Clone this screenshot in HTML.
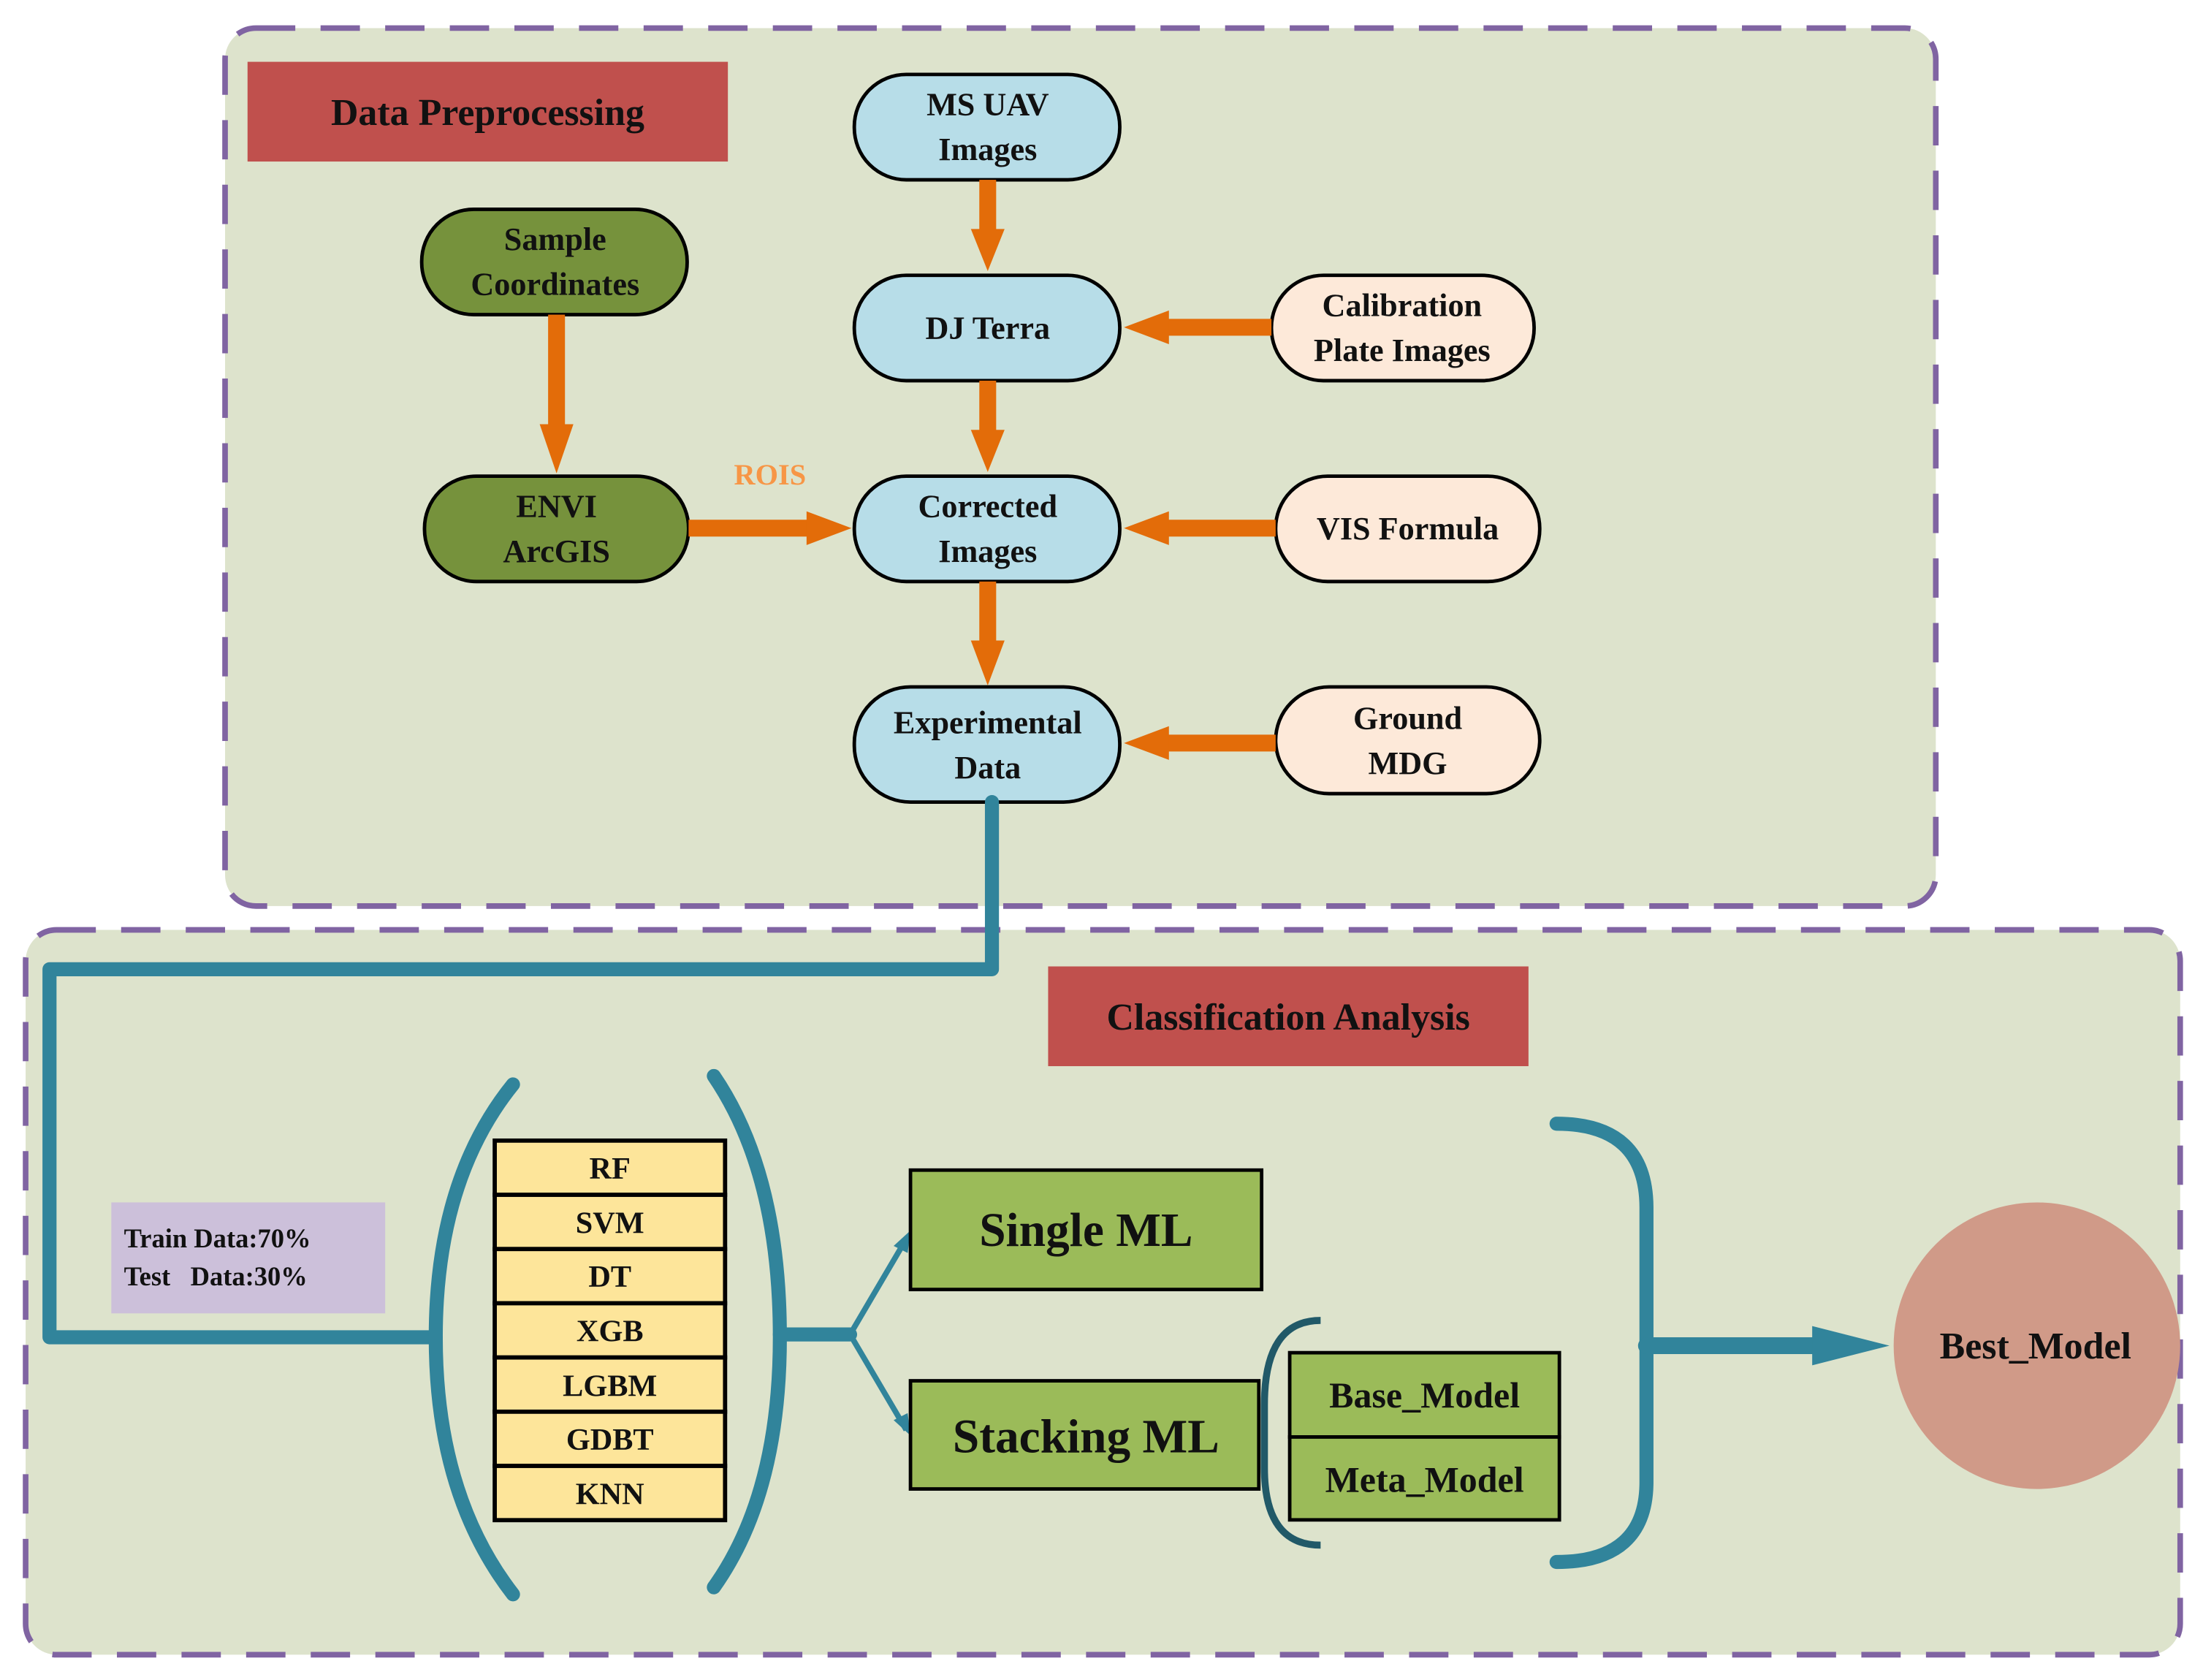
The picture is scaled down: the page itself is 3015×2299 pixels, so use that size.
<!DOCTYPE html>
<html><head><meta charset="utf-8"><style>html,body{margin:0;padding:0;background:#fff}svg{display:block}text{font-family:"Liberation Serif",serif;font-weight:bold;fill:#111}</style></head>
<body>
<svg width="3015" height="2299" viewBox="0 0 1568 1196" xmlns="http://www.w3.org/2000/svg">
<defs>
<marker id="oa" markerWidth="6" markerHeight="6" refX="5" refY="3" orient="auto" markerUnits="userSpaceOnUse" viewBox="0 0 6 6"></marker>
</defs>
<rect width="1568" height="1196" fill="#fff"/>
<rect x="160" y="20" width="1218" height="625" rx="22" fill="#dde3cc" stroke="#8064a2" stroke-width="4" stroke-dasharray="28,18"/>
<rect x="18" y="662" width="1534" height="516" rx="22" fill="#dde3cc" stroke="#8064a2" stroke-width="4" stroke-dasharray="28,18"/>

<rect x="176" y="44" width="342" height="71" fill="#c0504d"/>
<text x="347" y="89" font-size="27" text-anchor="middle">Data Preprocessing</text>
<rect x="746" y="688" width="342" height="71" fill="#c0504d"/>
<text x="917" y="733" font-size="27" text-anchor="middle">Classification Analysis</text>

<g stroke="#000" stroke-width="2.5">
<rect x="608" y="53" width="189" height="75" rx="37" fill="#b7dde8"/>
<rect x="300" y="149" width="189" height="75" rx="37" fill="#76923c"/>
<rect x="608" y="196" width="189" height="75" rx="37" fill="#b7dde8"/>
<rect x="905" y="196" width="187" height="75" rx="37" fill="#fde9d9"/>
<rect x="302" y="339" width="188" height="75" rx="37" fill="#76923c"/>
<rect x="608" y="339" width="189" height="75" rx="37" fill="#b7dde8"/>
<rect x="908" y="339" width="188" height="75" rx="37" fill="#fde9d9"/>
<rect x="608" y="489" width="189" height="82" rx="40" fill="#b7dde8"/>
<rect x="908" y="489" width="188" height="76" rx="38" fill="#fde9d9"/>
</g>
<g font-size="23" text-anchor="middle">
<text x="703" y="82">MS UAV</text><text x="703" y="114">Images</text>
<text x="395" y="178">Sample</text><text x="395" y="210">Coordinates</text>
<text x="703" y="241">DJ Terra</text>
<text x="998" y="225">Calibration</text><text x="998" y="257">Plate Images</text>
<text x="396" y="368">ENVI</text><text x="396" y="400">ArcGIS</text>
<text x="703" y="368">Corrected</text><text x="703" y="400">Images</text>
<text x="1002" y="384">VIS Formula</text>
<text x="703" y="522">Experimental</text><text x="703" y="554">Data</text>
<text x="1002" y="519">Ground</text><text x="1002" y="551">MDG</text>
</g>
<text x="548" y="345" font-size="21" text-anchor="middle" style="fill:#f79646">ROIS</text>

<g fill="#e36c09">
<rect x="697" y="128" width="12" height="40"/><polygon points="691,163 715,163 703,193"/>
<rect x="697" y="271" width="12" height="40"/><polygon points="691,306 715,306 703,336"/>
<rect x="697" y="414" width="12" height="46"/><polygon points="691,456 715,456 703,488"/>
<rect x="390" y="224" width="12" height="84"/><polygon points="384,302 408,302 396,337"/>
<rect x="490" y="370" width="90" height="12"/><polygon points="574,364 574,388 606,376"/>
<rect x="830" y="227" width="75" height="12"/><polygon points="832,221 832,245 800,233"/>
<rect x="830" y="370" width="78" height="12"/><polygon points="832,364 832,388 800,376"/>
<rect x="830" y="523" width="78" height="12"/><polygon points="832,517 832,541 800,529"/>
</g>

<g fill="none" stroke="#31849b" stroke-width="10" stroke-linecap="round" stroke-linejoin="round">
<polyline points="706,571 706,690 35,690 35,952 310,952"/>
<path d="M365,772 Q310,840 310,952 Q310,1064 365,1135"/>
<path d="M508,766 Q555,835 555,952 Q555,1064 508,1130"/>
<line x1="555" y1="950" x2="605" y2="950"/>
<path d="M1108,800 Q1172,800 1172,860 L1172,1055 Q1172,1112 1108,1112"/>
<line x1="1172" y1="958" x2="1295" y2="958" stroke-width="12"/>
</g>
<polygon points="1290,944 1345,958 1290,972" fill="#31849b"/>
<g fill="none" stroke="#31849b" stroke-width="4">
<polyline points="645,882 605,950 645,1018"/>
<path d="M940,940 Q900,940 900,1000 L900,1045 Q900,1100 940,1100" stroke="#215968" stroke-width="5"/>
</g>
<polygon points="648,876 636,887 646,892" fill="#31849b"/>
<polygon points="648,1022 636,1011 646,1006" fill="#31849b"/>

<rect x="79" y="856" width="195" height="79" fill="#ccc0da"/>
<text x="88" y="888" font-size="19">Train Data:70%</text>
<text x="88" y="915" font-size="19" xml:space="preserve">Test   Data:30%</text>

<g stroke="#000" stroke-width="3" fill="#fde59a">
<rect x="352" y="812" width="164" height="38.6"/><rect x="352" y="850.6" width="164" height="38.6"/><rect x="352" y="889.2" width="164" height="38.6"/><rect x="352" y="927.8" width="164" height="38.6"/><rect x="352" y="966.4" width="164" height="38.6"/><rect x="352" y="1005" width="164" height="38.6"/><rect x="352" y="1043.6" width="164" height="38.6"/>
</g>
<g font-size="22" text-anchor="middle">
<text x="434" y="839">RF</text><text x="434" y="878">SVM</text><text x="434" y="916">DT</text><text x="434" y="955">XGB</text><text x="434" y="994">LGBM</text><text x="434" y="1032">GDBT</text><text x="434" y="1071">KNN</text>
</g>

<g stroke="#000" stroke-width="2.5" fill="#9bbb59">
<rect x="648" y="833" width="250" height="85"/>
<rect x="648" y="983" width="248" height="77"/>
<rect x="918" y="963" width="192" height="60"/>
<rect x="918" y="1023" width="192" height="59"/>
</g>
<text x="773" y="887" font-size="34" text-anchor="middle">Single ML</text>
<text x="773" y="1034" font-size="34" text-anchor="middle">Stacking ML</text>
<text x="1014" y="1002" font-size="26" text-anchor="middle">Base_Model</text>
<text x="1014" y="1062" font-size="26" text-anchor="middle">Meta_Model</text>

<ellipse cx="1450" cy="958" rx="102" ry="102" fill="#d09a88"/>
<text x="1449" y="967" font-size="27" text-anchor="middle">Best_Model</text>
</svg>
</body></html>
